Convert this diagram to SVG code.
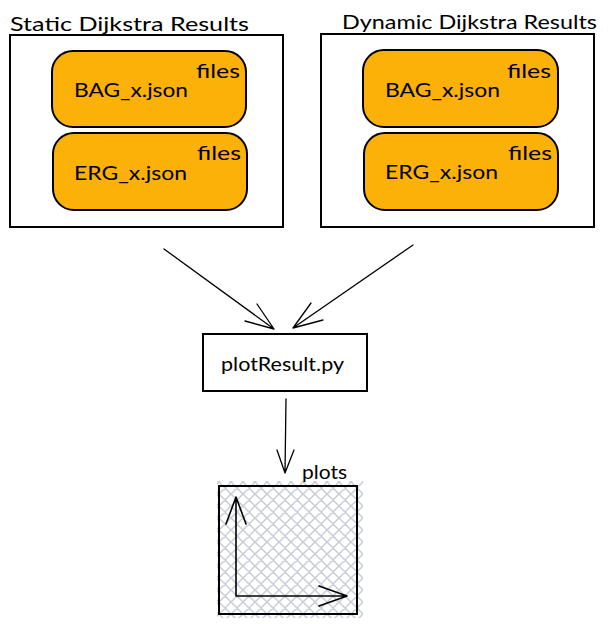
<svg xmlns="http://www.w3.org/2000/svg" width="608" height="624" viewBox="0 0 608 624">
<style>
text{font-family:"Lato","Open Sans",sans-serif;fill:#000}
.t{font-size:20px}
.outer{fill:#fff;stroke:#000;stroke-width:2}
.file{fill:#fcb108;stroke:#000;stroke-width:2}
.line{fill:none;stroke:#000;stroke-width:1.3;stroke-linecap:round;stroke-linejoin:round}
.axis{fill:none;stroke:#000;stroke-width:1.6;stroke-linecap:round;stroke-linejoin:round}
</style>
<defs>
<pattern id="hatch" width="12" height="12" patternUnits="userSpaceOnUse" patternTransform="translate(3 2)">
<path d="M-3 3L3 -3M-3 15L15 -3M9 15L15 9M-3 9L3 15M-3 -3L15 15M9 -3L15 3" fill="none" stroke="#c8ced6" stroke-width="1.5"/>
</pattern>
</defs>
<rect width="608" height="624" fill="#fff"/>
<g id="static-results">
<rect class="outer" x="10" y="35" width="273" height="192"/>
<text class="t" x="10" y="31" textLength="239" lengthAdjust="spacingAndGlyphs">Static Dijkstra Results</text>
</g>
<g id="static-bag">
<rect class="file" x="52" y="51" width="194" height="76" rx="21"/>
<text class="t" x="74" y="97" textLength="114" lengthAdjust="spacingAndGlyphs">BAG_x.json</text>
<text class="t" x="196" y="78" textLength="44" lengthAdjust="spacingAndGlyphs">files</text>
</g>
<g id="static-erg">
<rect class="file" x="53" y="133" width="194" height="77" rx="21"/>
<text class="t" x="74" y="180" textLength="113" lengthAdjust="spacingAndGlyphs">ERG_x.json</text>
<text class="t" x="197" y="160" textLength="44" lengthAdjust="spacingAndGlyphs">files</text>
</g>
<g id="dynamic-results">
<rect class="outer" x="321" y="34" width="273" height="193"/>
<text class="t" x="342" y="29" textLength="255" lengthAdjust="spacingAndGlyphs">Dynamic Dijkstra Results</text>
</g>
<g id="dynamic-bag">
<rect class="file" x="363" y="50" width="195" height="77" rx="21"/>
<text class="t" x="385" y="97" textLength="115" lengthAdjust="spacingAndGlyphs">BAG_x.json</text>
<text class="t" x="507" y="78" textLength="44" lengthAdjust="spacingAndGlyphs">files</text>
</g>
<g id="dynamic-erg">
<rect class="file" x="364" y="133" width="194" height="77" rx="21"/>
<text class="t" x="385" y="179" textLength="113" lengthAdjust="spacingAndGlyphs">ERG_x.json</text>
<text class="t" x="508" y="160" textLength="44" lengthAdjust="spacingAndGlyphs">files</text>
</g>
<g id="plot-result">
<rect class="outer" x="203" y="334" width="164" height="57"/>
<text class="t" x="221" y="371" textLength="123" lengthAdjust="spacingAndGlyphs">plotResult.py</text>
</g>
<g id="plots">
<rect x="217" y="481" width="146" height="137" fill="url(#hatch)"/>
<rect x="219" y="486" width="138" height="128" fill="none" stroke="#000" stroke-width="2"/>
<path class="axis" d="M236 596L236 497M226 524L236 497L246 524M236 596L347 596M319 586L347 596L319 606"/>
<text class="t" x="302" y="479" textLength="45" lengthAdjust="spacingAndGlyphs">plots</text>
</g>
<g id="connectors">
<path class="line" d="M164 249L274 329M257 304L274 329M245 321L274 329"/>
<path class="line" d="M413 245L293 328M311 303L293 328M323 320L293 328"/>
<path class="line" d="M286 399L285 473M277 450L285 473M294 450L285 473"/>
</g>
</svg>
